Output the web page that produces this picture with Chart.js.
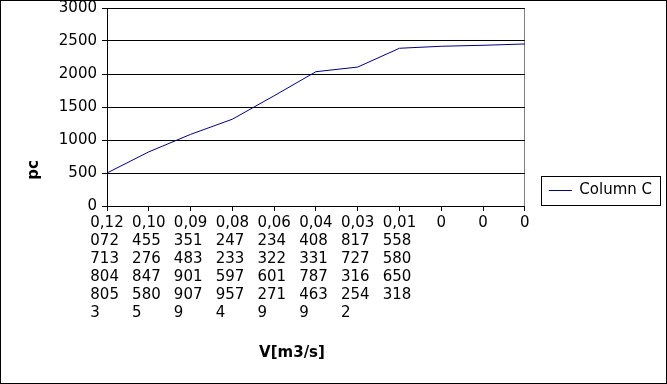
<!DOCTYPE html>
<html>
<head>
<meta charset="utf-8">
<script src="https://cdn.jsdelivr.net/npm/chart.js@4/dist/chart.umd.min.js"></script>
<style>
  html, body { margin: 0; padding: 0; background: #fff; }
  #wrap { width: 667px; height: 384px; border: 1px solid #000; box-sizing: border-box; background: #fff; }
  canvas { display: block; }
</style>
</head>
<body>
<div id="wrap"><canvas id="c" width="665" height="382"></canvas></div>
<script>
// ---- data ----
const vLabels = [
  "0,120727138048053",
  "0,104552768475805",
  "0,093514839019079",
  "0,082472335979574",
  "0,062343226012719",
  "0,044083317874639",
  "0,038177273162542",
  "0,01558580650318",
  "0",
  "0",
  "0"
];
const columnC = [500, 820, 1085, 1315, 1670, 2035, 2105, 2390, 2420, 2435, 2455];
const seriesName = "Column C";
const yTitle = "pc";
const xTitle = "V[m3/s]";
const yMin = 0, yMax = 3000, yStep = 500;

// ---- styling ----
const FONT = "'DejaVu Sans', Verdana, sans-serif";
const lineColor = "#000080";
Chart.defaults.font.family = FONT;
Chart.defaults.font.size = 15;
Chart.defaults.color = "#000";

// Wrap a long label: first 4 chars, then groups of 3, left aligned in a block
function wrapLabel(s) {
  if (s.length <= 4) return s;
  const lines = [s.slice(0, 4)];
  for (let i = 4; i < s.length; i += 3) {
    const chunk = s.slice(i, i + 3);
    lines.push(chunk + " ".repeat(2 * (3 - chunk.length) + 1));
  }
  return lines;
}

const extras = {
  id: "extras",
  beforeDraw(chart) {
    const ctx = chart.ctx;
    ctx.save();
    ctx.fillStyle = "#fff";
    ctx.fillRect(0, 0, chart.width, chart.height);
    ctx.restore();
  },
  afterDraw(chart) {
    const ctx = chart.ctx;
    ctx.save();
    // legend frame
    ctx.strokeStyle = "#000";
    ctx.lineWidth = 1;
    ctx.strokeRect(540.5, 175.5, 119, 29);
    // axis titles
    ctx.fillStyle = "#000";
    ctx.font = "bold 15px " + FONT;
    ctx.textAlign = "center";
    ctx.textBaseline = "middle";
    ctx.fillText(xTitle, 291, 352);
    ctx.translate(33, 169);
    ctx.rotate(-Math.PI / 2);
    ctx.fillText(yTitle, 0, 0);
    ctx.restore();
  }
};

new Chart(document.getElementById("c"), {
  type: "line",
  data: {
    labels: vLabels,
    datasets: [{
      label: seriesName,
      data: columnC,
      borderColor: lineColor,
      backgroundColor: lineColor,
      borderWidth: 1,
      pointRadius: 0,
      tension: 0,
      fill: false
    }]
  },
  options: {
    responsive: false,
    animation: false,
    devicePixelRatio: 1,
    layout: { padding: { top: 7, left: 0, right: 4, bottom: 10 } },
    plugins: {
      tooltip: { enabled: false },
      legend: {
        position: "right",
        align: "center",
        labels: {
          boxWidth: 23,
          boxHeight: 1,
          padding: 24,
          color: "#000",
          font: { size: 15 },
          generateLabels: (chart) =>
            Chart.defaults.plugins.legend.labels.generateLabels(chart).map(l => ({
              ...l, lineWidth: 0, fillStyle: lineColor
            }))
        }
      }
    },
    scales: {
      x: {
        type: "category",
        offset: false,
        border: { display: true, color: "#000", width: 1 },
        grid: {
          display: true,
          drawOnChartArea: true,
          color: (c) => (c.index === vLabels.length - 1 ? "#808080" : "rgba(0,0,0,0)"),
          tickColor: "#000",
          tickLength: 5
        },
        ticks: {
          autoSkip: false,
          maxRotation: 0,
          minRotation: 0,
          padding: 3,
          color: "#000",
          font: { size: 15, lineHeight: 1.2 },
          callback: function (value) { return wrapLabel(this.getLabelForValue(value)); }
        },
        afterFit: (s) => { s.height = 167; s.paddingLeft = 0; s.paddingRight = 0; }
      },
      y: {
        min: yMin,
        max: yMax,
        border: { display: true, color: "#000", width: 1 },
        grid: { color: "#000", tickColor: "#000", tickLength: 5, lineWidth: 1 },
        ticks: {
          stepSize: yStep, padding: 5, color: "#000", font: { size: 15 },
          callback: (v) => String(v)
        },
        afterFit: (s) => { s.width = 106; s.paddingTop = 0; s.paddingBottom = 0; }
      }
    }
  },
  plugins: [extras]
});
</script>
</body>
</html>
